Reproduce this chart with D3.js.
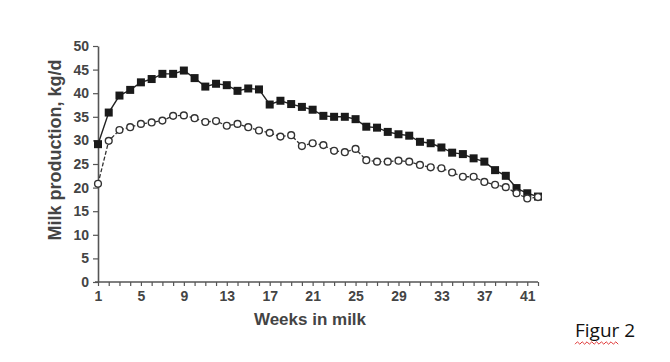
<!DOCTYPE html>
<html>
<head>
<meta charset="utf-8">
<script src="https://cdn.jsdelivr.net/npm/d3@7"></script>
<style>
  body { margin: 0; background: #fff; }
  svg { display: block; }
</style>
</head>
<body>
<svg id="chart" width="670" height="362"></svg>
<script>
// weeks in milk, 1..42
const weeks = d3.range(1, 43);

// filled squares (solid line)
const seriesA = [29.2, 35.9, 39.5, 40.7, 42.3, 43.0, 44.1, 44.1, 44.8, 43.2,
  41.4, 42.0, 41.7, 40.5, 41.0, 40.8, 37.6, 38.4, 37.7, 37.1,
  36.5, 35.2, 35.0, 35.0, 34.5, 32.9, 32.7, 31.8, 31.3, 31.0,
  29.7, 29.4, 28.5, 27.4, 27.1, 26.2, 25.5, 23.7, 22.5, 19.9,
  18.8, 18.1];

// open circles (dashed line)
const seriesB = [20.8, 29.9, 32.2, 32.8, 33.5, 33.8, 34.2, 35.2, 35.3, 34.7,
  33.9, 34.1, 33.1, 33.5, 32.8, 32.1, 31.6, 30.8, 31.1, 28.8,
  29.4, 29.0, 27.8, 27.5, 28.2, 25.8, 25.5, 25.5, 25.7, 25.5,
  24.8, 24.3, 24.1, 23.2, 22.3, 22.3, 21.2, 20.6, 20.1, 18.8,
  17.7, 18.0];

const xTickLabels = [1, 5, 9, 13, 17, 21, 25, 29, 33, 37, 41];
const yTicks = d3.range(0, 51, 5);

const svg = d3.select("#chart");

const x = d3.scaleLinear().domain([1, 42]).range([98, 538]);
const y = d3.scaleLinear().domain([0, 50]).range([282, 46]);

const axisColor = "#555";
const textColor = "#444";
const font = "'Liberation Sans', Arial, sans-serif";

// y axis
const yAxis = svg.append("g")
    .attr("transform", "translate(" + x(1) + ",0)")
    .call(d3.axisLeft(y).tickValues(yTicks).tickSize(5).tickSizeOuter(0).tickPadding(4));

// x axis, a tick every week but labels every 4th
const xAxis = svg.append("g")
    .attr("transform", "translate(0," + y(0) + ")")
    .call(d3.axisBottom(x).tickValues(weeks).tickSize(4).tickSizeOuter(0).tickPadding(5)
      .tickFormat(d => xTickLabels.includes(d) ? d : ""));

xAxis.select(".domain").attr("d", "M" + (x(1) - 3) + ",0H" + x(42));

[xAxis, yAxis].forEach(g => {
    g.select(".domain").attr("stroke", axisColor).attr("stroke-width", 1.6);
    g.selectAll(".tick line").attr("stroke", axisColor).attr("stroke-width", 1.2);
    g.selectAll(".tick text")
	.attr("fill", textColor)
	.style("font-family", font)
	.style("font-weight", "bold")
	.style("font-size", "14px");
});

// axis titles
svg.append("text")
    .attr("x", 310)
    .attr("y", 325)
    .attr("text-anchor", "middle")
    .attr("fill", textColor)
    .style("font-family", font)
    .style("font-weight", "bold")
    .style("font-size", "17px")
    .text("Weeks in milk");

svg.append("text")
    .attr("transform", "translate(61,150) rotate(-90)")
    .attr("text-anchor", "middle")
    .attr("fill", textColor)
    .style("font-family", font)
    .style("font-weight", "bold")
    .style("font-size", "18px")
    .text("Milk production, kg/d");

// lines
const lineA = d3.line().x((d, i) => x(weeks[i])).y(d => y(d));

svg.append("path")
    .datum(seriesB)
    .attr("d", lineA)
    .attr("fill", "none")
    .attr("stroke", "#333")
    .attr("stroke-width", 1.3)
    .attr("stroke-dasharray", "4,2");

svg.append("path")
    .datum(seriesA)
    .attr("d", lineA)
    .attr("fill", "none")
    .attr("stroke", "#222")
    .attr("stroke-width", 1.4);

// markers
const sq = 8;
svg.selectAll(".sq")
    .data(seriesA)
    .join("rect")
    .attr("class", "sq")
    .attr("x", (d, i) => x(weeks[i]) - sq / 2)
    .attr("y", d => y(d) - sq / 2)
    .attr("width", sq)
    .attr("height", sq)
    .attr("fill", "#1a1a1a");

svg.selectAll(".circ")
    .data(seriesB)
    .join("circle")
    .attr("class", "circ")
    .attr("cx", (d, i) => x(weeks[i]))
    .attr("cy", d => y(d))
    .attr("r", 3.4)
    .attr("fill", "#fff")
    .attr("stroke", "#333")
    .attr("stroke-width", 1.4);

// caption with a spell check squiggle under it
svg.append("text")
    .attr("x", 575)
    .attr("y", 337)
    .attr("fill", "#111")
    .style("font-family", "'Open Sans', 'Noto Sans', sans-serif")
    .style("font-size", "19px")
    .text("Figur 2");

const wave = d3.range(0, 19).map(i => [575 + i * 2.4, 343 + (i % 2 ? -1.2 : 1.2)]);
svg.append("path")
    .attr("d", d3.line()(wave))
    .attr("fill", "none")
    .attr("stroke", "#d22")
    .attr("stroke-width", 0.9);
</script>
</body>
</html>
